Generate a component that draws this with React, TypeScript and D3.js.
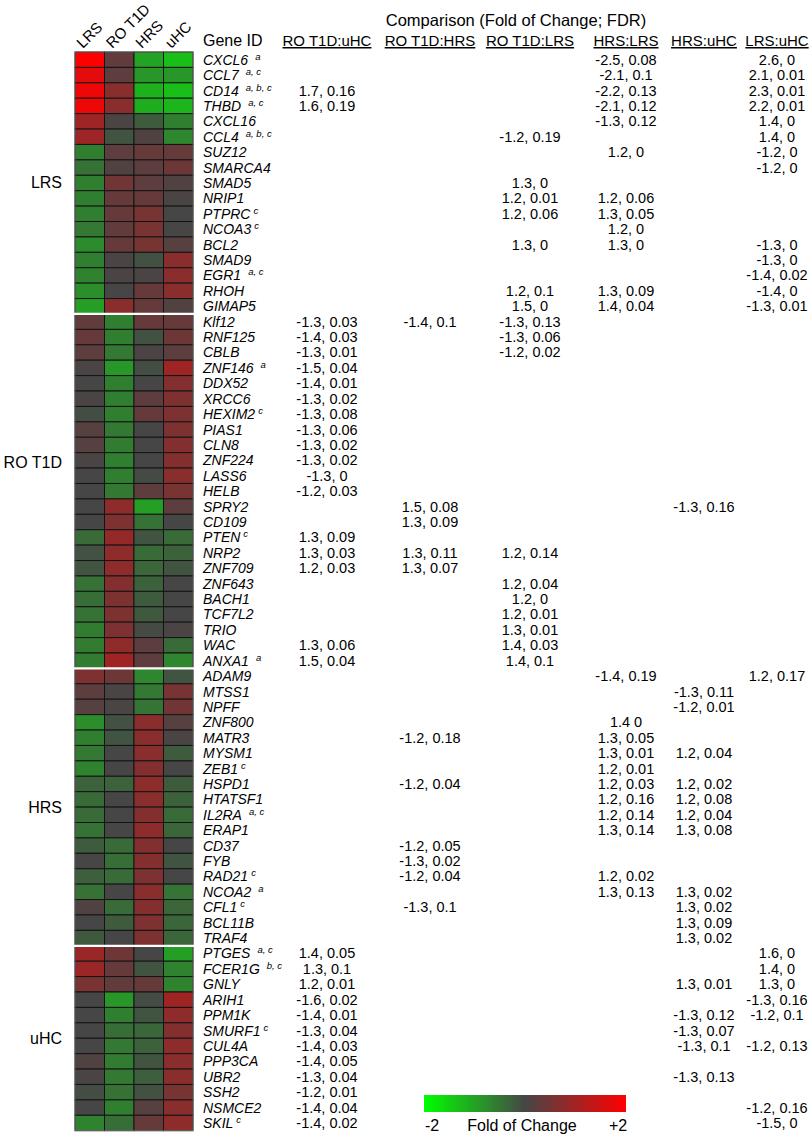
import React from "react";
import * as d3 from "d3";

const conditions = ["LRS", "RO T1D", "HRS", "uHC"];

const genes = [
  "CXCL6","CCL7","CD14","THBD","CXCL16","CCL4","SUZ12","SMARCA4","SMAD5","NRIP1","PTPRC","NCOA3","BCL2","SMAD9","EGR1","RHOH","GIMAP5",
  "Klf12","RNF125","CBLB","ZNF146","DDX52","XRCC6","HEXIM2","PIAS1","CLN8","ZNF224","LASS6","HELB","SPRY2","CD109","PTEN","NRP2","ZNF709","ZNF643","BACH1","TCF7L2","TRIO","WAC","ANXA1",
  "ADAM9","MTSS1","NPFF","ZNF800","MATR3","MYSM1","ZEB1","HSPD1","HTATSF1","IL2RA","ERAP1","CD37","FYB","RAD21","NCOA2","CFL1","BCL11B","TRAF4",
  "PTGES","FCER1G","GNLY","ARIH1","PPM1K","SMURF1","CUL4A","PPP3CA","UBR2","SSH2","NSMCE2","SKIL",
];

const superscripts: [string, string][] = [
  ["CXCL6", "a"], ["CCL7", "a, c"], ["CD14", "a, b, c"], ["THBD", "a, c"], ["CCL4", "a, b, c"],
  ["PTPRC", "c"], ["NCOA3", "c"], ["EGR1", "a, c"], ["ZNF146", "a"], ["HEXIM2", "c"], ["PTEN", "c"],
  ["ANXA1", "a"], ["ZEB1", "c"], ["IL2RA", "a, c"], ["RAD21", "c"], ["NCOA2", "a"], ["CFL1", "c"],
  ["PTGES", "a, c"], ["FCER1G", "b, c"], ["SMURF1", "c"], ["SKIL", "c"],
];

const groups = ["LRS", "RO T1D", "HRS", "uHC"];
const groupFirstGene = ["CXCL6", "Klf12", "ADAM9", "PTGES"];
const groupLastGene = ["GIMAP5", "ANXA1", "TRAF4", "SKIL"];

// heatmap fold-of-change values per condition (row order = genes)
const lrsFC = [
  2.0, 1.7, 1.8, 1.8, 0.95, 0.95, -0.62, -0.47, -0.62, -0.62, -0.62, -0.55, -0.75, -0.62, -0.66, -0.78, -0.95,
  0.3, 0.35, 0.25, 0.05, 0.0, 0.05, -0.08, 0.18, 0.18, 0.05, 0.0, 0.0, 0.0, 0.0, -0.4, -0.12, -0.15, -0.47, -0.43, -0.47, -0.58, -0.58, -0.58,
  0.6, 0.25, 0.18, -0.78, -0.62, -0.55, -0.66, -0.3, -0.4, -0.4, -0.47, -0.23, 0.0, -0.27, -0.47, 0.12, 0.0, -0.2,
  0.9, 0.9, 0.55, 0.0, 0.0, 0.0, 0.0, 0.12, 0.05, -0.08, 0.0, -0.66,
];
const roFC = [
  0.3, 0.25, 0.72, 0.72, 0.05, -0.15, 0.25, 0.12, 0.48, 0.35, 0.35, 0.3, 0.35, 0.05, 0.05, 0.0, 0.72,
  -0.62, -0.62, -0.55, -0.86, -0.62, -0.62, -0.62, -0.55, -0.58, -0.62, -0.62, -0.55, 0.78, 0.6, 0.84, 0.78, 0.78, 0.66, 0.6, 0.6, 0.6, 0.78, 0.96,
  0.42, 0.05, 0.05, -0.12, -0.15, 0.0, 0.0, -0.3, 0.0, 0.0, 0.0, -0.4, -0.43, -0.4, 0.0, -0.4, -0.23, 0.0,
  0.42, 0.35, 0.3, -0.86, -0.62, -0.43, -0.55, -0.58, -0.55, -0.47, -0.62, -0.43,
];
const hrsFC = [
  -1.0, -0.86, -1.17, -1.1, -0.23, 0.12, 0.35, 0.25, 0.25, 0.35, 0.54, 0.54, 0.54, -0.12, 0.05, 0.35, 0.35,
  0.35, -0.12, 0.05, -0.08, 0.0, 0.25, 0.35, 0.0, 0.0, 0.0, -0.04, 0.25, -0.95, -0.47, -0.15, -0.4, -0.35, -0.3, -0.23, -0.2, -0.04, 0.25, 0.25,
  -0.7, -0.55, -0.5, 0.72, 0.72, 0.72, 0.66, 0.78, 0.72, 0.66, 0.78, 0.66, 0.66, 0.6, 0.72, 0.66, 0.6, 0.6,
  0.0, -0.15, 0.35, -0.08, -0.15, -0.35, -0.3, -0.15, -0.27, -0.12, 0.18, 0.35,
];
const uhcFC = [
  -1.3, -0.86, -1.3, -1.2, -0.62, -0.7, 0.35, 0.42, 0.12, 0.05, 0.0, 0.0, 0.18, 0.72, 0.72, 0.72, 0.12,
  0.35, 0.42, 0.25, 0.96, 0.66, 0.6, 0.6, 0.6, 0.66, 0.66, 0.72, 0.54, 0.25, 0.0, -0.4, -0.3, -0.15, 0.0, 0.0, 0.0, 0.05, -0.4, -0.7,
  -0.15, 0.54, 0.48, 0.18, 0.05, -0.23, 0.0, -0.23, -0.3, -0.4, -0.35, 0.0, -0.15, 0.0, -0.5, -0.35, -0.35, -0.35,
  -0.95, -0.66, -0.66, 0.96, 0.78, 0.66, 0.78, 0.72, 0.72, 0.54, 0.72, 0.78,
];

const comparisons = ["RO T1D:uHC", "RO T1D:HRS", "RO T1D:LRS", "HRS:LRS", "HRS:uHC", "LRS:uHC"];

const cmpROuHC: [string, string][] = [
  ["CD14", "1.7, 0.16"], ["THBD", "1.6, 0.19"],
  ["Klf12", "-1.3, 0.03"], ["RNF125", "-1.4, 0.03"], ["CBLB", "-1.3, 0.01"], ["ZNF146", "-1.5, 0.04"],
  ["DDX52", "-1.4, 0.01"], ["XRCC6", "-1.3, 0.02"], ["HEXIM2", "-1.3, 0.08"], ["PIAS1", "-1.3, 0.06"],
  ["CLN8", "-1.3, 0.02"], ["ZNF224", "-1.3, 0.02"], ["LASS6", "-1.3, 0"], ["HELB", "-1.2, 0.03"],
  ["PTEN", "1.3, 0.09"], ["NRP2", "1.3, 0.03"], ["ZNF709", "1.2, 0.03"], ["WAC", "1.3, 0.06"], ["ANXA1", "1.5, 0.04"],
  ["PTGES", "1.4, 0.05"], ["FCER1G", "1.3, 0.1"], ["GNLY", "1.2, 0.01"], ["ARIH1", "-1.6, 0.02"],
  ["PPM1K", "-1.4, 0.01"], ["SMURF1", "-1.3, 0.04"], ["CUL4A", "-1.4, 0.03"], ["PPP3CA", "-1.4, 0.05"],
  ["UBR2", "-1.3, 0.04"], ["SSH2", "-1.2, 0.01"], ["NSMCE2", "-1.4, 0.04"], ["SKIL", "-1.4, 0.02"],
];
const cmpROHRS: [string, string][] = [
  ["Klf12", "-1.4, 0.1"], ["SPRY2", "1.5, 0.08"], ["CD109", "1.3, 0.09"], ["NRP2", "1.3, 0.11"], ["ZNF709", "1.3, 0.07"],
  ["MATR3", "-1.2, 0.18"], ["HSPD1", "-1.2, 0.04"], ["CD37", "-1.2, 0.05"], ["FYB", "-1.3, 0.02"],
  ["RAD21", "-1.2, 0.04"], ["CFL1", "-1.3, 0.1"],
];
const cmpROLRS: [string, string][] = [
  ["CCL4", "-1.2, 0.19"], ["SMAD5", "1.3, 0"], ["NRIP1", "1.2, 0.01"], ["PTPRC", "1.2, 0.06"], ["BCL2", "1.3, 0"],
  ["RHOH", "1.2, 0.1"], ["GIMAP5", "1.5, 0"], ["Klf12", "-1.3, 0.13"], ["RNF125", "-1.3, 0.06"], ["CBLB", "-1.2, 0.02"],
  ["NRP2", "1.2, 0.14"], ["ZNF643", "1.2, 0.04"], ["BACH1", "1.2, 0"], ["TCF7L2", "1.2, 0.01"], ["TRIO", "1.3, 0.01"],
  ["WAC", "1.4, 0.03"], ["ANXA1", "1.4, 0.1"],
];
const cmpHRSLRS: [string, string][] = [
  ["CXCL6", "-2.5, 0.08"], ["CCL7", "-2.1, 0.1"], ["CD14", "-2.2, 0.13"], ["THBD", "-2.1, 0.12"], ["CXCL16", "-1.3, 0.12"],
  ["SUZ12", "1.2, 0"], ["NRIP1", "1.2, 0.06"], ["PTPRC", "1.3, 0.05"], ["NCOA3", "1.2, 0"], ["BCL2", "1.3, 0"],
  ["RHOH", "1.3, 0.09"], ["GIMAP5", "1.4, 0.04"], ["ADAM9", "-1.4, 0.19"], ["ZNF800", "1.4 0"], ["MATR3", "1.3, 0.05"],
  ["MYSM1", "1.3, 0.01"], ["ZEB1", "1.2, 0.01"], ["HSPD1", "1.2, 0.03"], ["HTATSF1", "1.2, 0.16"], ["IL2RA", "1.2, 0.14"],
  ["ERAP1", "1.3, 0.14"], ["RAD21", "1.2, 0.02"], ["NCOA2", "1.3, 0.13"],
];
const cmpHRSuHC: [string, string][] = [
  ["SPRY2", "-1.3, 0.16"], ["MTSS1", "-1.3, 0.11"], ["NPFF", "-1.2, 0.01"], ["MYSM1", "1.2, 0.04"], ["HSPD1", "1.2, 0.02"],
  ["HTATSF1", "1.2, 0.08"], ["IL2RA", "1.2, 0.04"], ["ERAP1", "1.3, 0.08"], ["NCOA2", "1.3, 0.02"], ["CFL1", "1.3, 0.02"],
  ["BCL11B", "1.3, 0.09"], ["TRAF4", "1.3, 0.02"], ["GNLY", "1.3, 0.01"], ["PPM1K", "-1.3, 0.12"], ["SMURF1", "-1.3, 0.07"],
  ["CUL4A", "-1.3, 0.1"], ["UBR2", "-1.3, 0.13"],
];
const cmpLRSuHC: [string, string][] = [
  ["CXCL6", "2.6, 0"], ["CCL7", "2.1, 0.01"], ["CD14", "2.3, 0.01"], ["THBD", "2.2, 0.01"], ["CXCL16", "1.4, 0"],
  ["CCL4", "1.4, 0"], ["SUZ12", "-1.2, 0"], ["SMARCA4", "-1.2, 0"], ["BCL2", "-1.3, 0"], ["SMAD9", "-1.3, 0"],
  ["EGR1", "-1.4, 0.02"], ["RHOH", "-1.4, 0"], ["GIMAP5", "-1.3, 0.01"], ["ADAM9", "1.2, 0.17"], ["PTGES", "1.6, 0"],
  ["FCER1G", "1.4, 0"], ["GNLY", "1.3, 0"], ["ARIH1", "-1.3, 0.16"], ["PPM1K", "-1.2, 0.1"], ["CUL4A", "-1.2, 0.13"],
  ["NSMCE2", "-1.2, 0.16"], ["SKIL", "-1.5, 0"],
];

const legendTicks = ["-2", "+2"];
const legendTitle = "Fold of Change";
const tableTitle = "Comparison (Fold of Change; FDR)";

const FONT = "'Liberation Sans', Arial, Helvetica, sans-serif";

export default function App() {
  React.useEffect(() => {
    document.body.style.margin = "0";
  }, []);

  const W = 810, H = 1134;
  const x = d3.scaleBand<string>().domain(conditions).range([75, 193]);
  const y = d3.scaleBand<string>().domain(genes).range([52, 1130.7]);
  const color = d3
    .scaleLinear<string>()
    .domain([-2, 0, 2])
    .range(["#00ff00", "#464646", "#ff0000"])
    .interpolate(d3.interpolateRgb)
    .clamp(true);
  const colX = d3.scaleOrdinal<string, number>().domain(comparisons).range([327, 430, 530, 626, 704, 777]);

  const heat = [lrsFC, roFC, hrsFC, uhcFC];
  const cmpData = [cmpROuHC, cmpROHRS, cmpROLRS, cmpHRSLRS, cmpHRSuHC, cmpLRSuHC];
  const supMap = new Map(superscripts);
  const bw = y.bandwidth();

  const legendScale = d3.scaleLinear().domain([-2, 2]).range([424, 626]);
  const gradStops = d3.range(0, 1.0001, 0.1).map((t) => ({ t, c: color(-2 + 4 * t) }));

  return (
    <svg width={W} height={H} style={{ position: "absolute", left: 0, top: 0, background: "#fff" }} fontFamily={FONT}>
      <defs>
        <linearGradient id="fcgrad" x1="0" x2="1" y1="0" y2="0">
          {gradStops.map((s, i) => (
            <stop key={i} offset={s.t} stopColor={s.c} />
          ))}
        </linearGradient>
      </defs>
      <rect width={W} height={H} fill="#fff" />

      {/* column labels */}
      {conditions.map((c) => (
        <text
          key={c}
          transform={`translate(${(x(c) as number) + x.bandwidth() / 2 - 7},49) rotate(-45)`}
          fontSize={15}
          fill="#000"
        >
          {c}
        </text>
      ))}

      {/* heatmap */}
      <g>
        {genes.map((g, i) =>
          conditions.map((c, j) => (
            <rect
              key={g + c}
              x={x(c)}
              y={y(g)}
              width={x.bandwidth()}
              height={bw}
              fill={color(heat[j][i])}
              stroke="#141414"
              strokeWidth={1}
            />
          ))
        )}
        <rect x={75} y={52} width={118} height={1130.7 - 52} fill="none" stroke="#777" strokeWidth={0.8} />
        {groupFirstGene.slice(1).map((g) => (
          <line key={g} x1={73} x2={195} y1={y(g)} y2={y(g)} stroke="#fff" strokeWidth={2.2} />
        ))}
      </g>

      {/* group labels */}
      {groups.map((gr, i) => {
        const y0 = y(groupFirstGene[i]) as number;
        const y1 = (y(groupLastGene[i]) as number) + bw;
        const cy = i === 1 ? 462 : (y0 + y1) / 2;
        return (
          <text key={gr} x={62} y={cy + 5.5} textAnchor="end" fontSize={16} fill="#000">
            {gr}
          </text>
        );
      })}

      {/* gene names */}
      <text x={203} y={46} fontSize={16} fill="#000">Gene ID</text>
      {genes.map((g) => (
        <text key={g} x={203} y={(y(g) as number) + bw / 2 + 5} fontSize={14} fontStyle="italic" fill="#000">
          {g}
          {supMap.has(g) ? (
            <tspan fontSize={9.5} dx={supMap.get(g) === "c" ? 3 : 7} dy={-5}>
              {supMap.get(g)}
            </tspan>
          ) : null}
        </text>
      ))}

      {/* table title and headers */}
      <text x={516} y={26} textAnchor="middle" fontSize={16.5} fill="#000">
        {tableTitle}
      </text>
      {comparisons.map((c) => (
        <text key={c} x={colX(c)} y={46} textAnchor="middle" fontSize={15} fill="#000" style={{ textDecoration: "underline" }}>
          {c}
        </text>
      ))}

      {/* comparison values */}
      {comparisons.map((c, k) =>
        cmpData[k].map(([g, v]) => (
          <text
            key={c + g}
            x={colX(c)}
            y={(y(g) as number) + bw / 2 + 5}
            textAnchor="middle"
            fontSize={14.5}
            fill="#000"
          >
            {v}
          </text>
        ))
      )}

      {/* legend */}
      <rect x={legendScale(-2)} y={1095} width={legendScale(2) - legendScale(-2)} height={17} fill="url(#fcgrad)" />
      <text x={legendScale(-2) + 8} y={1131} textAnchor="middle" fontSize={16} fill="#000">{legendTicks[0]}</text>
      <text x={legendScale(0) - 3} y={1131} textAnchor="middle" fontSize={16} fill="#000">{legendTitle}</text>
      <text x={legendScale(2) - 8} y={1131} textAnchor="middle" fontSize={16} fill="#000">{legendTicks[1]}</text>
    </svg>
  );
}
